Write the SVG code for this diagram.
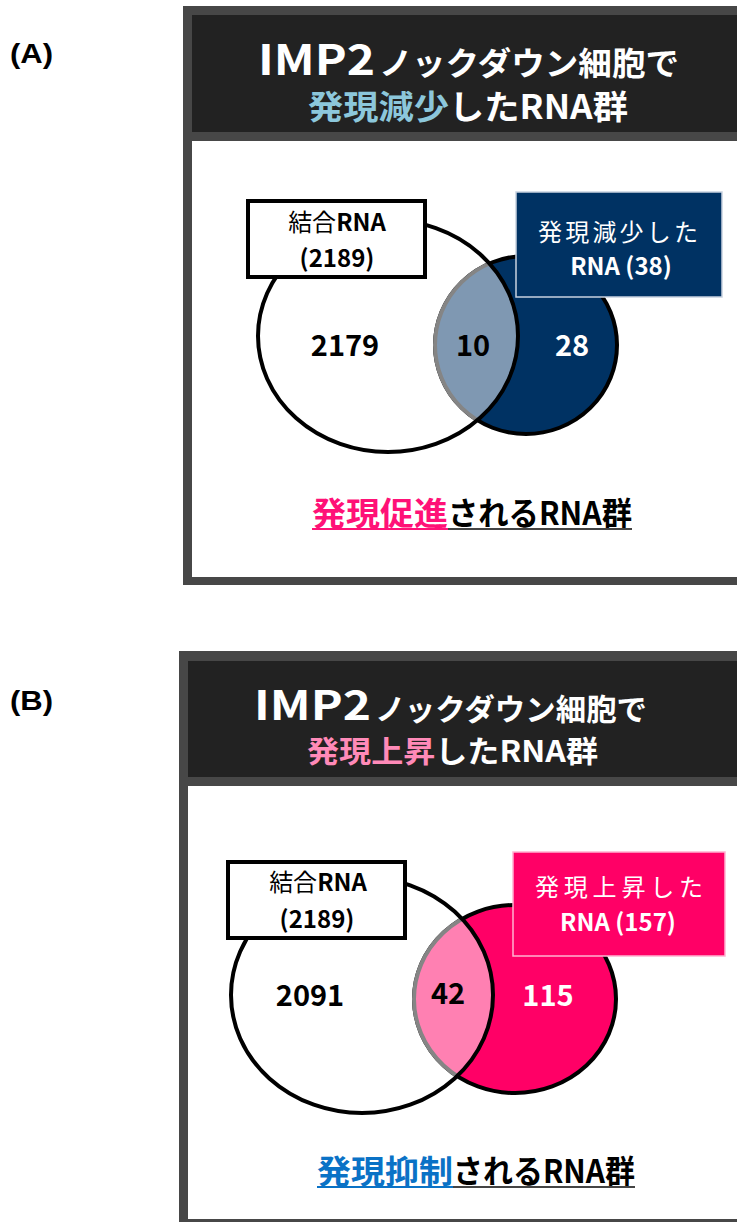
<svg xmlns="http://www.w3.org/2000/svg" width="737" height="1222" viewBox="0 0 737 1222">
<style>
.jp{font-family:"Noto Sans CJK JP","Noto Sans",sans-serif;}
.b{font-weight:bold;}
.w{fill:#ffffff;}
.k{fill:#000000;}
.frame{fill:#474747;}
.hdr{fill:#222222;}
.panel{fill:#ffffff;}
.lbl{fill:#ffffff;stroke:#000000;stroke-width:4;}
.outline{fill:none;stroke:#000000;stroke-width:4;}
.num{font-family:"Noto Sans CJK JP","Noto Sans",sans-serif;font-weight:bold;font-size:29px;text-anchor:middle;}
.tag{font-family:"Liberation Sans",Arial,sans-serif;font-weight:bold;font-size:28px;fill:#000;}
</style>
<defs>
<clipPath id="clipA"><ellipse cx="388" cy="336" rx="130" ry="116"/></clipPath>
<clipPath id="clipB"><ellipse cx="362" cy="995" rx="131" ry="118"/></clipPath>
</defs>
<rect width="737" height="1222" fill="#ffffff"/>

<text class="tag" x="10" y="63" textLength="43" lengthAdjust="spacingAndGlyphs">(A)</text>
<text class="tag" x="10" y="710" textLength="43" lengthAdjust="spacingAndGlyphs">(B)</text>

<g id="panelA">
<rect class="frame" x="183" y="6" width="560" height="579"/>
<rect class="hdr" x="192" y="15" width="550" height="117"/>
<rect class="panel" x="192" y="141" width="550" height="436"/>
<text class="jp b w" x="258" y="75" font-size="42" textLength="117" lengthAdjust="spacingAndGlyphs">IMP2</text>
<text class="jp b w" x="379" y="75" font-size="32" textLength="300" lengthAdjust="spacingAndGlyphs">ノックダウン細胞で</text>
<text class="jp b" x="308" y="119" font-size="33" textLength="320" lengthAdjust="spacingAndGlyphs"><tspan fill="#8cc7db">発現減少</tspan><tspan fill="#ffffff">したRNA群</tspan></text>
</g>

<g id="vennA">
<ellipse cx="388" cy="336" rx="130" ry="116" fill="#ffffff"/>
<ellipse cx="526" cy="345" rx="91" ry="89" fill="#003263" stroke="#000" stroke-width="4"/>
<ellipse cx="526" cy="345" rx="91" ry="89" fill="#7f98b2" stroke="#858585" stroke-width="4" clip-path="url(#clipA)"/>
<ellipse class="outline" cx="388" cy="336" rx="130" ry="116"/>
<text class="num k" x="345" y="356">2179</text>
<text class="num k" x="473" y="356">10</text>
<text class="num w" x="572" y="356">28</text>
</g>

<g id="labelBoundA">
<rect class="lbl" x="248" y="201" width="177" height="76"/>
<text class="jp" x="337" y="231" font-size="24" text-anchor="middle" fill="#000"><tspan>結合</tspan><tspan font-weight="bold">RNA</tspan></text>
<text class="jp b" x="337" y="267" font-size="24" text-anchor="middle" fill="#000">(2189)</text>
</g>

<g id="labelDownA">
<rect x="516" y="192" width="206" height="105" fill="#003263" stroke="#c8d2e0" stroke-width="1.5"/>
<text class="jp w" x="618" y="241" font-size="24" text-anchor="middle" textLength="160">発現減少した</text>
<text class="jp b w" x="621" y="275" font-size="24" text-anchor="middle">RNA (38)</text>
</g>

<g id="captionA">
<text class="jp b" x="312" y="525" font-size="32" textLength="136" lengthAdjust="spacingAndGlyphs" fill="#ff1177">発現促進</text>
<text class="jp b" x="448" y="525" font-size="32" textLength="184" lengthAdjust="spacingAndGlyphs" fill="#000">されるRNA群</text>
<rect x="312" y="528" width="136" height="2" fill="#ff1177"/>
<rect x="448" y="528" width="184" height="2" fill="#444"/>
</g>

<g id="panelB">
<rect class="frame" x="179" y="651" width="565" height="580"/>
<rect class="hdr" x="188" y="661" width="555" height="116"/>
<rect class="panel" x="188" y="786" width="555" height="433"/>
<text class="jp b w" x="254" y="720" font-size="40" textLength="117" lengthAdjust="spacingAndGlyphs">IMP2</text>
<text class="jp b w" x="375" y="720" font-size="30" textLength="272" lengthAdjust="spacingAndGlyphs">ノックダウン細胞で</text>
<text class="jp b" x="307" y="762" font-size="30" textLength="291" lengthAdjust="spacingAndGlyphs"><tspan fill="#ff8ab8">発現上昇</tspan><tspan fill="#ffffff">したRNA群</tspan></text>
</g>

<g id="vennB">
<ellipse cx="362" cy="995" rx="131" ry="118" fill="#ffffff"/>
<ellipse cx="515" cy="999" rx="101" ry="94" fill="#ff0066" stroke="#000" stroke-width="4"/>
<ellipse cx="515" cy="999" rx="101" ry="94" fill="#ff80b2" stroke="#858585" stroke-width="4" clip-path="url(#clipB)"/>
<ellipse class="outline" cx="362" cy="995" rx="131" ry="118" stroke-width="5"/>
<text class="num k" x="310" y="1006">2091</text>
<text class="num k" x="448" y="1004">42</text>
<text class="num w" x="548" y="1006">115</text>
</g>

<g id="labelBoundB">
<rect class="lbl" x="228" y="862" width="177" height="76"/>
<text class="jp" x="318" y="891" font-size="24" text-anchor="middle" fill="#000"><tspan>結合</tspan><tspan font-weight="bold">RNA</tspan></text>
<text class="jp b" x="317" y="928" font-size="24" text-anchor="middle" fill="#000">(2189)</text>
</g>

<g id="labelUpB">
<rect x="513" y="852" width="212" height="104" fill="#ff0066" stroke="#ffb3d1" stroke-width="1.5"/>
<text class="jp w" x="619" y="896" font-size="24" text-anchor="middle" textLength="168">発現上昇した</text>
<text class="jp b w" x="618" y="931" font-size="24" text-anchor="middle">RNA (157)</text>
</g>

<g id="captionB">
<text class="jp b" x="317" y="1183" font-size="32" textLength="136" lengthAdjust="spacingAndGlyphs" fill="#0a72c6">発現抑制</text>
<text class="jp b" x="453" y="1183" font-size="32" textLength="182" lengthAdjust="spacingAndGlyphs" fill="#000">されるRNA群</text>
<rect x="317" y="1186" width="136" height="2" fill="#0a72c6"/>
<rect x="453" y="1186" width="182" height="2" fill="#444"/>
</g>

<g id="connectors"/>
</svg>
